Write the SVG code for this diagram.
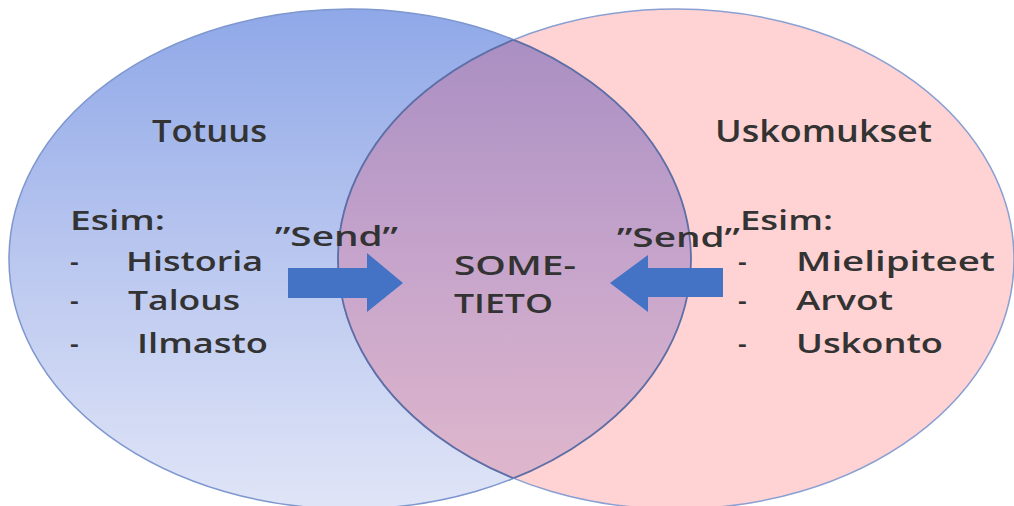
<svg xmlns="http://www.w3.org/2000/svg" width="1014" height="506" viewBox="0 0 1014 506">
  <defs>
    <linearGradient id="blueFill" x1="0" y1="0" x2="0" y2="1">
      <stop offset="0" stop-color="#8FA8E8"/>
      <stop offset="0.5" stop-color="#BAC7EF"/>
      <stop offset="1" stop-color="#E0E5F7"/>
    </linearGradient>
    <linearGradient id="mixFill" x1="0" y1="0" x2="0" y2="1">
      <stop offset="0" stop-color="#A68CC2"/>
      <stop offset="0.5" stop-color="#C6A4CB"/>
      <stop offset="1" stop-color="#E2B9CC"/>
    </linearGradient>
    <clipPath id="clipLeft">
      <ellipse cx="350" cy="259" rx="341" ry="250"/>
    </clipPath>
    <clipPath id="clipRight">
      <ellipse cx="676" cy="259" rx="338" ry="250"/>
    </clipPath>
    <style>
      .lbl { font-family: "Open Sans", "Liberation Sans", sans-serif; font-weight: 600; fill: #333333; }
      .head { font-size: 30px; }
      .item { font-size: 27px; }
      .arrow { fill: #4472C4; }
    </style>
  </defs>

  <rect width="1014" height="506" fill="#FFFFFF"/>

  <!-- Venn circles -->
  <g id="truth">
    <ellipse cx="350" cy="259" rx="341" ry="250" fill="url(#blueFill)" stroke="#7E97CF" stroke-width="1.5"/>
  </g>
  <g id="beliefs">
    <ellipse cx="676" cy="259" rx="338" ry="250" fill="#FFD3D4" stroke="#8A9FD2" stroke-width="1.5"/>
  </g>
  <g id="overlap">
    <ellipse cx="676" cy="259" rx="338" ry="250" fill="url(#mixFill)" clip-path="url(#clipLeft)"/>
    <ellipse cx="676" cy="259" rx="338" ry="250" fill="none" stroke="#5E6EA6" stroke-width="1.8" clip-path="url(#clipLeft)"/>
    <ellipse cx="350" cy="259" rx="341" ry="250" fill="none" stroke="#5E6EA6" stroke-width="1.8" clip-path="url(#clipRight)"/>
  </g>

  <!-- Left set labels -->
  <g id="truth-labels">
    <text class="lbl head" x="152" y="142" textLength="115" lengthAdjust="spacingAndGlyphs">Totuus</text>
    <text class="lbl item" x="70" y="230" textLength="95" lengthAdjust="spacingAndGlyphs">Esim:</text>
    <text class="lbl item" x="70" y="271">-</text>
    <text class="lbl item" x="126" y="271" textLength="137" lengthAdjust="spacingAndGlyphs">Historia</text>
    <text class="lbl item" x="70" y="310">-</text>
    <text class="lbl item" x="128" y="310" textLength="112" lengthAdjust="spacingAndGlyphs">Talous</text>
    <text class="lbl item" x="70" y="353">-</text>
    <text class="lbl item" x="137" y="353" textLength="131" lengthAdjust="spacingAndGlyphs">Ilmasto</text>
  </g>

  <!-- Right set labels -->
  <g id="beliefs-labels">
    <text class="lbl head" x="715" y="142" textLength="217" lengthAdjust="spacingAndGlyphs">Uskomukset</text>
    <text class="lbl item" x="740" y="230" textLength="93" lengthAdjust="spacingAndGlyphs">Esim:</text>
    <text class="lbl item" x="738" y="271">-</text>
    <text class="lbl item" x="796" y="271" textLength="199" lengthAdjust="spacingAndGlyphs">Mielipiteet</text>
    <text class="lbl item" x="738" y="310">-</text>
    <text class="lbl item" x="796" y="310" textLength="97" lengthAdjust="spacingAndGlyphs">Arvot</text>
    <text class="lbl item" x="738" y="353">-</text>
    <text class="lbl item" x="796" y="353" textLength="147" lengthAdjust="spacingAndGlyphs">Uskonto</text>
  </g>

  <!-- Overlap label -->
  <g id="overlap-label">
    <text class="lbl item" x="454" y="275" textLength="122" lengthAdjust="spacingAndGlyphs">SOME-</text>
    <text class="lbl item" x="454" y="313" textLength="99" lengthAdjust="spacingAndGlyphs">TIETO</text>
  </g>

  <!-- Arrows feeding the overlap -->
  <g id="connectors">
    <g id="send-left">
      <polygon class="arrow" points="288,268 367,268 367,253 403,283 367,312 367,298 288,298"/>
      <text class="lbl item" x="275" y="246" textLength="123" lengthAdjust="spacingAndGlyphs">”Send”</text>
    </g>
    <g id="send-right">
      <polygon class="arrow" points="723,268 648,268 648,255 610,283 648,312 648,297 723,297"/>
      <text class="lbl item" x="617" y="247" textLength="123" lengthAdjust="spacingAndGlyphs">”Send”</text>
    </g>
  </g>
</svg>
